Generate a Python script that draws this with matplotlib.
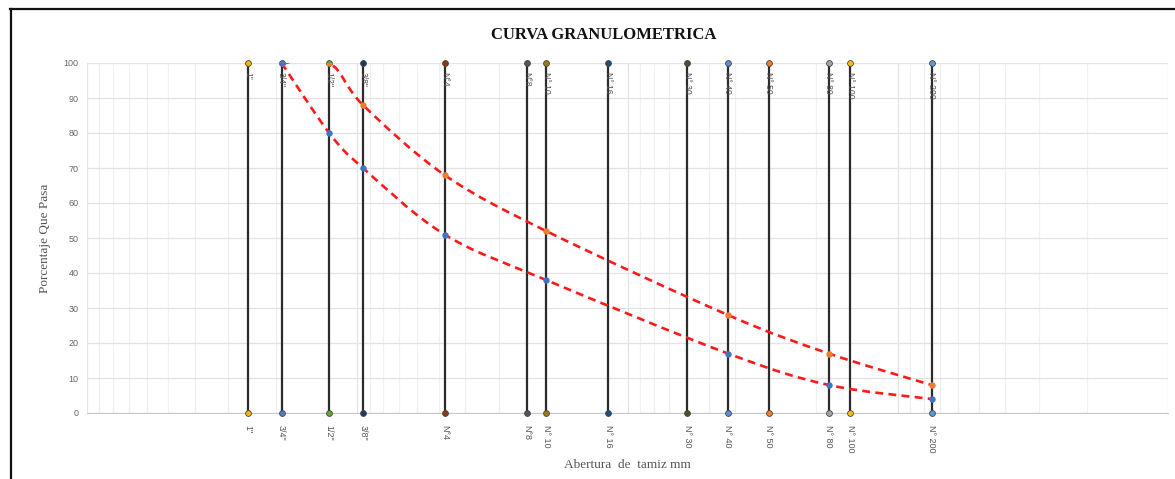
import matplotlib
matplotlib.use("Agg")
import matplotlib.pyplot as plt
import numpy as np
from matplotlib.path import Path
from matplotlib.patches import PathPatch
from matplotlib.lines import Line2D
from matplotlib.ticker import LogLocator, NullFormatter, MultipleLocator

# ---- data ----
sieve_labels = ['1"', '3/4"', '1/2"', '3/8"', 'N°4', 'N°8', 'N° 10', 'N° 16',
                'N° 30', 'N° 40', 'N° 50', 'N° 80', 'N° 100', 'N° 200']
sieve_mm = [25.4, 19.05, 12.7, 9.525, 4.75, 2.36, 2.0, 1.18,
            0.6, 0.425, 0.3, 0.18, 0.15, 0.075]
sieve_colors = ['#f2b800', '#4f7fc7', '#6aa23c', '#1f3864', '#8b3a0f', '#555555',
                '#a07c0a', '#1f4e79', '#3b5a23', '#5b8fd6', '#ed7d31', '#a5a5a5',
                '#ffc000', '#5b9bd5']

upper_mm = [19.05, 12.7, 9.525, 4.75, 2.0, 0.425, 0.18, 0.075]
upper_pct = [100, 100, 88, 68, 52, 28, 17, 8]
lower_mm = [19.05, 12.7, 9.525, 4.75, 2.0, 0.425, 0.18, 0.075]
lower_pct = [100, 80, 70, 51, 38, 17, 8, 4]

title = "CURVA GRANULOMETRICA"
xlabel = "Abertura  de  tamiz mm"
ylabel = "Porcentaje Que Pasa"

W, H = 1175, 479
fig = plt.figure(figsize=(W / 100, H / 100), dpi=100)
ax = fig.add_axes([87 / W, 1 - 413 / H, (1168 - 87) / W, (413 - 63) / H])

ax.set_xscale('log')
ax.set_xlim(100, 0.01)
ax.set_ylim(0, 100)

# grid
ax.xaxis.set_major_locator(LogLocator(base=10, numticks=10))
ax.xaxis.set_minor_locator(LogLocator(base=10, subs=np.arange(2, 10), numticks=20))
ax.xaxis.set_major_formatter(NullFormatter())
ax.xaxis.set_minor_formatter(NullFormatter())
ax.yaxis.set_major_locator(MultipleLocator(10))
ax.grid(which='major', color='#e3e3e3', lw=0.9)
ax.grid(which='minor', axis='x', color='#f0f0f0', lw=0.9)
ax.set_axisbelow(True)
ax.tick_params(axis='x', which='both', length=0)
ax.tick_params(axis='y', length=0, labelsize=6.5, labelcolor='#666666', pad=6)
for lab in ax.get_yticklabels():
    lab.set_family('Liberation Sans')
for s in ['top', 'right', 'left']:
    ax.spines[s].set_visible(False)
ax.spines['bottom'].set_color('#c8c8c8')

# sieve vertical lines
for x, lab, c in zip(sieve_mm, sieve_labels, sieve_colors):
    ax.plot([x, x], [0, 100], color='#2b2b2b', lw=1.6, zorder=3,
            marker='o', ms=4.2, mfc=c, mec='#444444', mew=0.6, clip_on=False)
    ax.text(x, 97.3, lab, rotation=270, ha='center', va='top', fontsize=6.2,
            color='#555555', family='Liberation Sans', zorder=4)
    ax.annotate(lab, xy=(x, 0), xycoords=('data', 'axes fraction'),
                xytext=(0, -8.5), textcoords='offset points', rotation=270,
                ha='center', va='top', fontsize=6.5, color='#555555',
                family='Liberation Sans')


def smooth_path(xs, ys):
    lx = np.log10(np.asarray(xs, float))
    yy = np.asarray(ys, float)
    n = len(lx)
    verts = [(xs[0], ys[0])]
    codes = [Path.MOVETO]
    for i in range(n - 1):
        p0 = (lx[max(i - 1, 0)], yy[max(i - 1, 0)])
        p1 = (lx[i], yy[i])
        p2 = (lx[i + 1], yy[i + 1])
        p3 = (lx[min(i + 2, n - 1)], yy[min(i + 2, n - 1)])
        c1 = (p1[0] + (p2[0] - p0[0]) / 6, p1[1] + (p2[1] - p0[1]) / 6)
        c2 = (p2[0] - (p3[0] - p1[0]) / 6, p2[1] - (p3[1] - p1[1]) / 6)
        for c in (c1, c2, p2):
            verts.append((10 ** c[0], c[1]))
            codes.append(Path.CURVE4)
    return Path(verts, codes)


for xs, ys, mc in [(upper_mm, upper_pct, '#ed7d31'), (lower_mm, lower_pct, '#4472c4')]:
    patch = PathPatch(smooth_path(xs, ys), fill=False, edgecolor='#ff1a1a', lw=1.9,
                      linestyle=(0, (3, 2)), zorder=5)
    ax.add_patch(patch)
    ax.plot(xs, ys, ls='none', marker='o', ms=3.6, mfc=mc, mec=mc, zorder=6)

fig.text(604 / W, 1 - 35 / H, title, ha='center', va='center', fontsize=12,
         fontweight='bold', family='Liberation Serif', color='#111111')
fig.text(627 / W, 1 - 465 / H, xlabel, ha='center', va='center', fontsize=9.5,
         family='Liberation Serif', color='#555555')
fig.text(45 / W, 1 - 238 / H, ylabel, ha='center', va='center', rotation=90,
         fontsize=9.5, family='Liberation Serif', color='#555555')

# outer border (top and left)
fig.add_artist(Line2D([10 / W, 1], [1 - 8.5 / H, 1 - 8.5 / H], color='#111111', lw=1.6))
fig.add_artist(Line2D([10.5 / W, 10.5 / W], [0, 1 - 8.5 / H], color='#111111', lw=1.6))

fig.savefig('out.png', dpi=100, facecolor='white')
